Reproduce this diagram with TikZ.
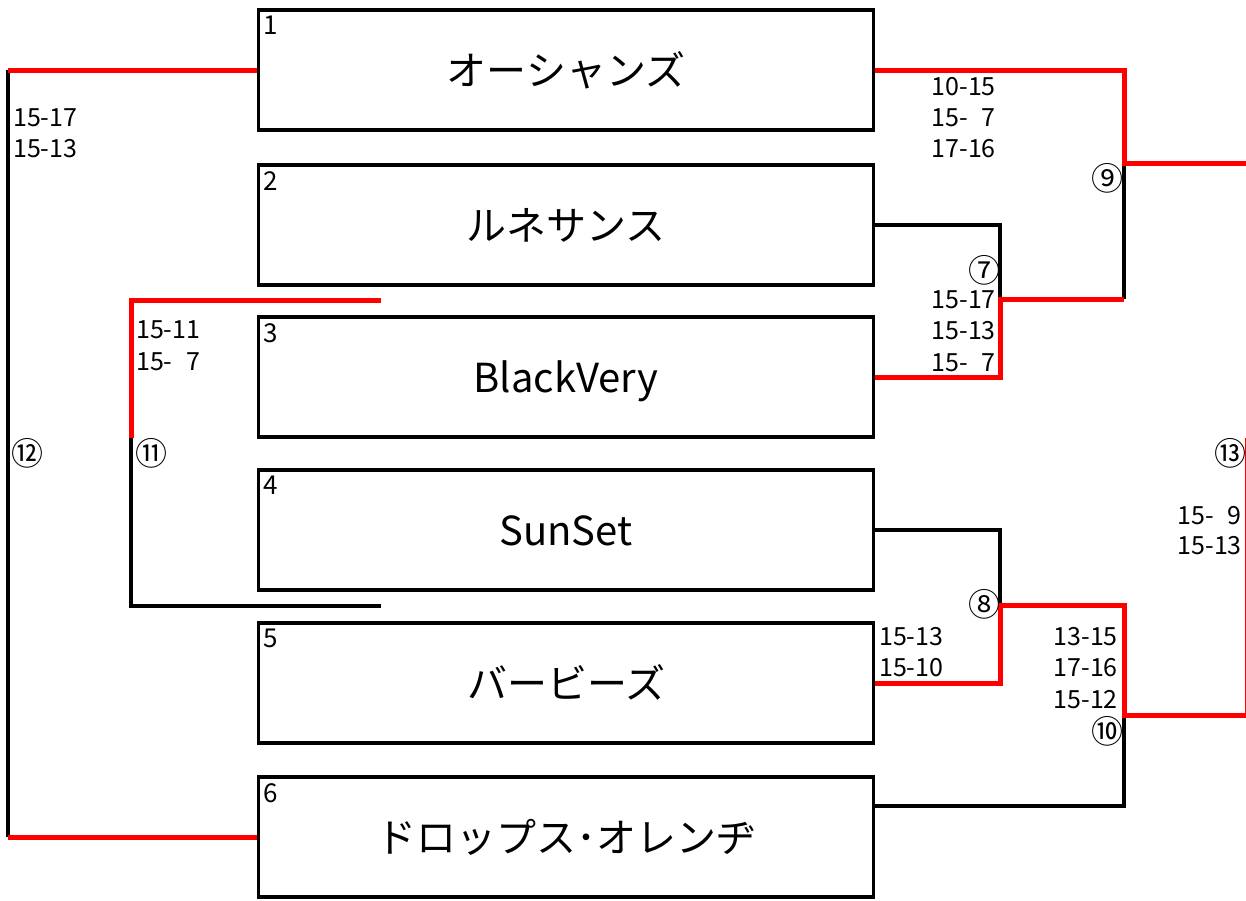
\documentclass[tikz,border=0pt]{standalone}
\usepackage{fontspec}
\setmainfont{Noto Sans CJK JP}
\begin{document}
\begin{tikzpicture}[x=1pt,y=-1pt,
  team/.style={draw, line width=3.2pt, minimum width=615pt, minimum height=120pt, inner sep=0pt,
    font=\fontsize{40}{48}\selectfont, text height=30pt, text depth=0pt},
  num/.style={anchor=north west, inner sep=0pt, font=\fontsize{26}{30}\selectfont},
  scoreL/.style={anchor=west, inner sep=0pt, font=\fontsize{25}{30}\selectfont},
  scoreR/.style={anchor=east, inner sep=0pt, font=\fontsize{25}{30}\selectfont},
  circ/.style={inner sep=0pt, font=\fontsize{32}{36}\selectfont},
  blk/.style={line width=3.2pt, black},
  win/.style={line width=5pt, red},
  thinwin/.style={line width=1.2pt, red}]
\useasboundingbox (0,0) rectangle (1246,900);

% team boxes
\node[team] (b1) at (566,70)  {オーシャンズ};
\node[team] (b2) at (566,225) {ルネサンス};
\node[team] (b3) at (566,377) {BlackVery};
\node[team] (b4) at (566,530) {SunSet};
\node[team] (b5) at (566,683) {バービーズ};
\node[team] (b6) at (566,837) {ドロップス･オレンヂ};

\node[num] (n1) at (263,16)  {1};
\node[num] (n2) at (263,171) {2};
\node[num] (n3) at (263,323) {3};
\node[num] (n4) at (263,476) {4};
\node[num] (n5) at (263,629) {5};
\node[num] (n6) at (263,783) {6};

% coordinates of bracket joints
\coordinate (m7)  at (1000,299);
\coordinate (m9)  at (1124,163);
\coordinate (w9)  at (1246,163);
\coordinate (m8)  at (1000,605);
\coordinate (m10) at (1124,715);
\coordinate (w10) at (1246,715);
\coordinate (t13) at (1246,438);
\coordinate (e6)  at (875,806);
\coordinate (a11) at (381,300);
\coordinate (m11) at (131,438);
\coordinate (z11) at (381,606);
\coordinate (m12) at (8,453);

% black (losing) lines
\draw[blk] (b2.east) -| (m7);
\draw[blk] (m7 -| m9) -- (m9);
\draw[blk] (b4.east) -| (m8);
\draw[blk] (e6) -| (m10);
\draw[blk] (m11) |- (z11);
\draw[blk] (b1.west -| m12) -- (b6.west -| m12);

% red (winning) lines
\draw[win] (b3.east) -| (m7) -- (m7 -| m9);
\draw[win] (b1.east) -| (m9) -- (w9);
\draw[win] (b5.east) -| (m8) -- (m8 -| m10) -- (m10) -- (w10);
\draw[thinwin] (w10) -- (t13);
\draw[win] (a11) -| (m11);
\draw[win] (b1.west) -- (b1.west -| m12);
\draw[win] (b6.west -| m12) -- (b6.west);

% match numbers
\node[circ] (c7)  at (984,270)  {⑦};
\node[circ] (c8)  at (984,604)  {⑧};
\node[circ] (c9)  at (1107,178) {⑨};
\node[circ] (c10) at (1107,731) {⑩};
\node[circ] (c11) at (151,453)  {⑪};
\node[circ] (c12) at (27,453)   {⑫};
\node[circ] (c13) at (1230,453) {⑬};

% scores
\node[scoreL] (s12a) at (13,118) {15-17};
\node[scoreL] (s12b) at (13,149) {15-13};
\node[scoreL] (s11a) at (136,330) {15-11};
\node[scoreL] (s11b) at (136,362) {15-\hspace{0.33em} 7};
\node[scoreR] (s9a) at (996,87)  {10-15};
\node[scoreR] (s9b) at (996,118) {15-\hspace{0.33em} 7};
\node[scoreR] (s9c) at (996,149) {17-16};
\node[scoreR] (s7a) at (996,300) {15-17};
\node[scoreR] (s7b) at (996,331) {15-13};
\node[scoreR] (s7c) at (996,363) {15-\hspace{0.33em} 7};
\node[scoreL] (s8a) at (879,637) {15-13};
\node[scoreL] (s8b) at (879,668) {15-10};
\node[scoreR] (s10a) at (1118,637) {13-15};
\node[scoreR] (s10b) at (1118,668) {17-16};
\node[scoreR] (s10c) at (1118,700) {15-12};
\node[scoreR] (s13a) at (1242,516) {15-\hspace{0.33em} 9};
\node[scoreR] (s13b) at (1242,546) {15-13};
\end{tikzpicture}
\end{document}
